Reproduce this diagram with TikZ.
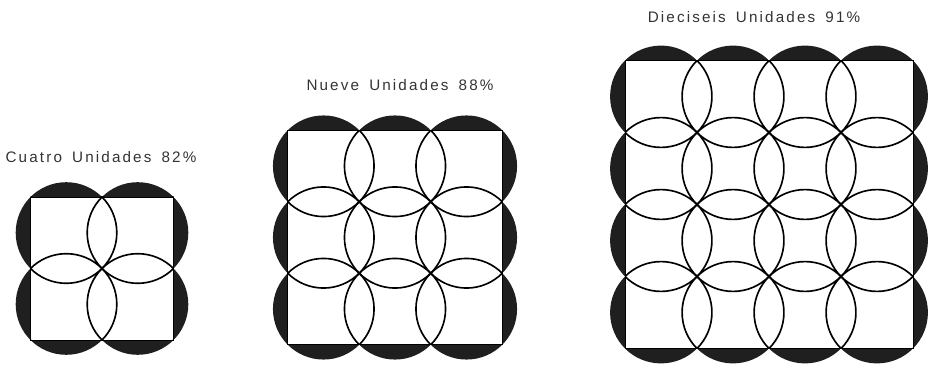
\documentclass[tikz,border=0pt]{standalone}
\usepackage{fontspec}
\setmainfont{Liberation Sans}[LetterSpace=14,WordSpace=1.6]
\tikzstyle{celda}=[draw=black, line width=1.4pt]
\tikzstyle{borde}=[draw=black, line width=0.8pt]
\tikzstyle{sombra}=[fill=black!88]
\tikzstyle{rotulo}=[font=\fontsize{13}{15}\selectfont, text=black!80, inner sep=0pt]

% #1,#2 centro, #3 unidades por lado, #4 lado de celda
\newcommand{\cuadricula}[4]{%
  \pgfmathsetmacro{\mitad}{#3*#4/2}
  \pgfmathsetmacro{\radio}{#4*0.7071}
  \foreach \i in {1,...,#3}{
    \foreach \j in {1,...,#3}{
      \fill[sombra] ({#1-\mitad+(\i-0.5)*#4},{#2-\mitad+(\j-0.5)*#4}) circle (\radio);
    }
  }
  \fill[white] ({#1-\mitad},{#2-\mitad}) rectangle ({#1+\mitad},{#2+\mitad});
  \begin{scope}
    \clip ({#1-\mitad},{#2-\mitad}) rectangle ({#1+\mitad},{#2+\mitad});
    \foreach \i in {1,...,#3}{
      \foreach \j in {1,...,#3}{
        \draw[celda] ({#1-\mitad+(\i-0.5)*#4},{#2-\mitad+(\j-0.5)*#4}) circle (\radio);
      }
    }
  \end{scope}
  \draw[borde] ({#1-\mitad},{#2-\mitad}) rectangle ({#1+\mitad},{#2+\mitad});
}

\begin{document}
\begin{tikzpicture}[x=0.03cm,y=0.03cm]
  \useasboundingbox (0,0) rectangle (937,366);

  \cuadricula{102}{97.5}{2}{71.5}
  \cuadricula{395}{128.5}{3}{71.5}
  \cuadricula{769}{161.5}{4}{72}

  \node[rotulo] (cuatro) at (101,209) {Cuatro Unidades 82\%};
  \node[rotulo] (nueve) at (400,281) {Nueve Unidades 88\%};
  \node[rotulo] (dieciseis) at (754,349) {Dieciseis Unidades 91\%};
\end{tikzpicture}
\end{document}
